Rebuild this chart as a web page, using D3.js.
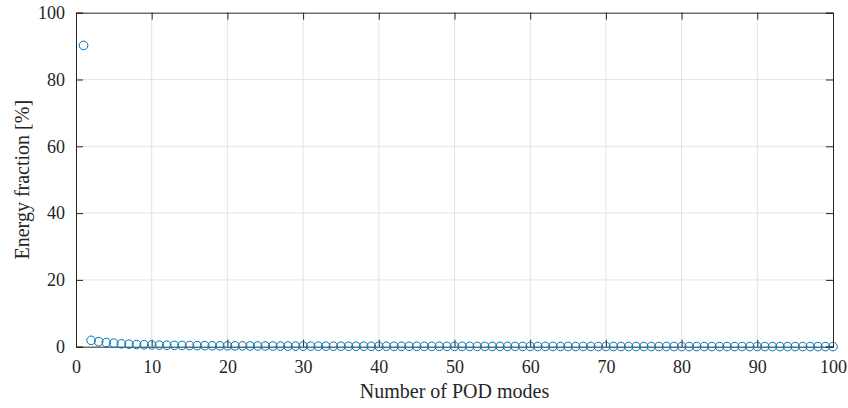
<!DOCTYPE html>
<html><head><meta charset="utf-8">
<script src="https://cdn.jsdelivr.net/npm/d3@7"></script>
<style>body{margin:0;background:#fff}svg{display:block}</style>
</head><body><svg id="c" width="848" height="408"></svg>
<script>
const modes = d3.range(1, 101);
const energy = [90.2,1.9,1.5,1.25,1.05,0.85,0.75,0.65,0.58,0.52,
0.47,0.43,0.40,0.37,0.35,0.33,0.31,0.29,0.27,0.26,
0.25,0.24,0.23,0.22,0.21,0.20,0.19,0.19,0.18,0.17,
0.17,0.16,0.16,0.15,0.15,0.14,0.14,0.14,0.13,0.13,
0.13,0.12,0.12,0.12,0.11,0.11,0.11,0.11,0.10,0.10,
0.10,0.10,0.09,0.09,0.09,0.09,0.09,0.08,0.08,0.08,
0.08,0.08,0.08,0.07,0.07,0.07,0.07,0.07,0.07,0.07,
0.06,0.06,0.06,0.06,0.06,0.06,0.06,0.06,0.06,0.05,
0.05,0.05,0.05,0.05,0.05,0.05,0.05,0.05,0.05,0.05,
0.04,0.04,0.04,0.04,0.04,0.04,0.04,0.04,0.04,0.04];
const xTicks = [0,10,20,30,40,50,60,70,80,90,100];
const yTicks = [0,20,40,60,80,100];
const xLabel = "Number of POD modes";
const yLabel = "Energy fraction [%]";

const L=76,R=833,T=12.7,B=346.7;
const svg=d3.select("#c");
const x=d3.scaleLinear().domain([0,100]).range([L,R]);
const y=d3.scaleLinear().domain([0,100]).range([B,T]);
const font="'Liberation Serif','Times New Roman',serif";

// grid
svg.append("g").selectAll("line").data(xTicks.slice(1,-1)).join("line")
 .attr("x1",d=>x(d)).attr("x2",d=>x(d)).attr("y1",T).attr("y2",B)
 .attr("stroke","#e3e3e3").attr("stroke-width",1);
svg.append("g").selectAll("line").data(yTicks.slice(1,-1)).join("line")
 .attr("y1",d=>y(d)).attr("y2",d=>y(d)).attr("x1",L).attr("x2",R)
 .attr("stroke","#e3e3e3").attr("stroke-width",1);

// axes
const ax=svg.append("g").attr("transform",`translate(0,${B})`)
 .call(d3.axisBottom(x).tickValues(xTicks).tickSize(-7).tickPadding(14));
const ay=svg.append("g").attr("transform",`translate(${L},0)`)
 .call(d3.axisLeft(y).tickValues(yTicks).tickSize(-7).tickPadding(11));
const at=svg.append("g").attr("transform",`translate(0,${T})`)
 .call(d3.axisTop(x).tickValues(xTicks).tickSize(-7).tickFormat(""));
const ar=svg.append("g").attr("transform",`translate(${R},0)`)
 .call(d3.axisRight(y).tickValues(yTicks).tickSize(-7).tickFormat(""));
[ax,ay,at,ar].forEach(g=>{
 g.selectAll("path").attr("stroke","#262626").attr("stroke-width",1);
 g.selectAll("line").attr("stroke","#262626");
 g.selectAll("text").attr("font-family",font).attr("font-size",18).attr("fill","#262626");
});

// points
svg.append("g").selectAll("circle").data(modes).join("circle")
 .attr("cx",(d)=>x(d)).attr("cy",(d,i)=>y(energy[i])).attr("r",4.3)
 .attr("fill","none").attr("stroke","#0072BD").attr("stroke-width",1);

svg.append("text").attr("x",(L+R)/2).attr("y",398).attr("text-anchor","middle")
 .attr("font-family",font).attr("font-size",20).attr("fill","#262626").text(xLabel);
svg.append("text").attr("transform",`translate(29,${(T+B)/2}) rotate(-90)`).attr("text-anchor","middle")
 .attr("font-family",font).attr("font-size",20).attr("fill","#262626").text(yLabel);
</script></body></html>
